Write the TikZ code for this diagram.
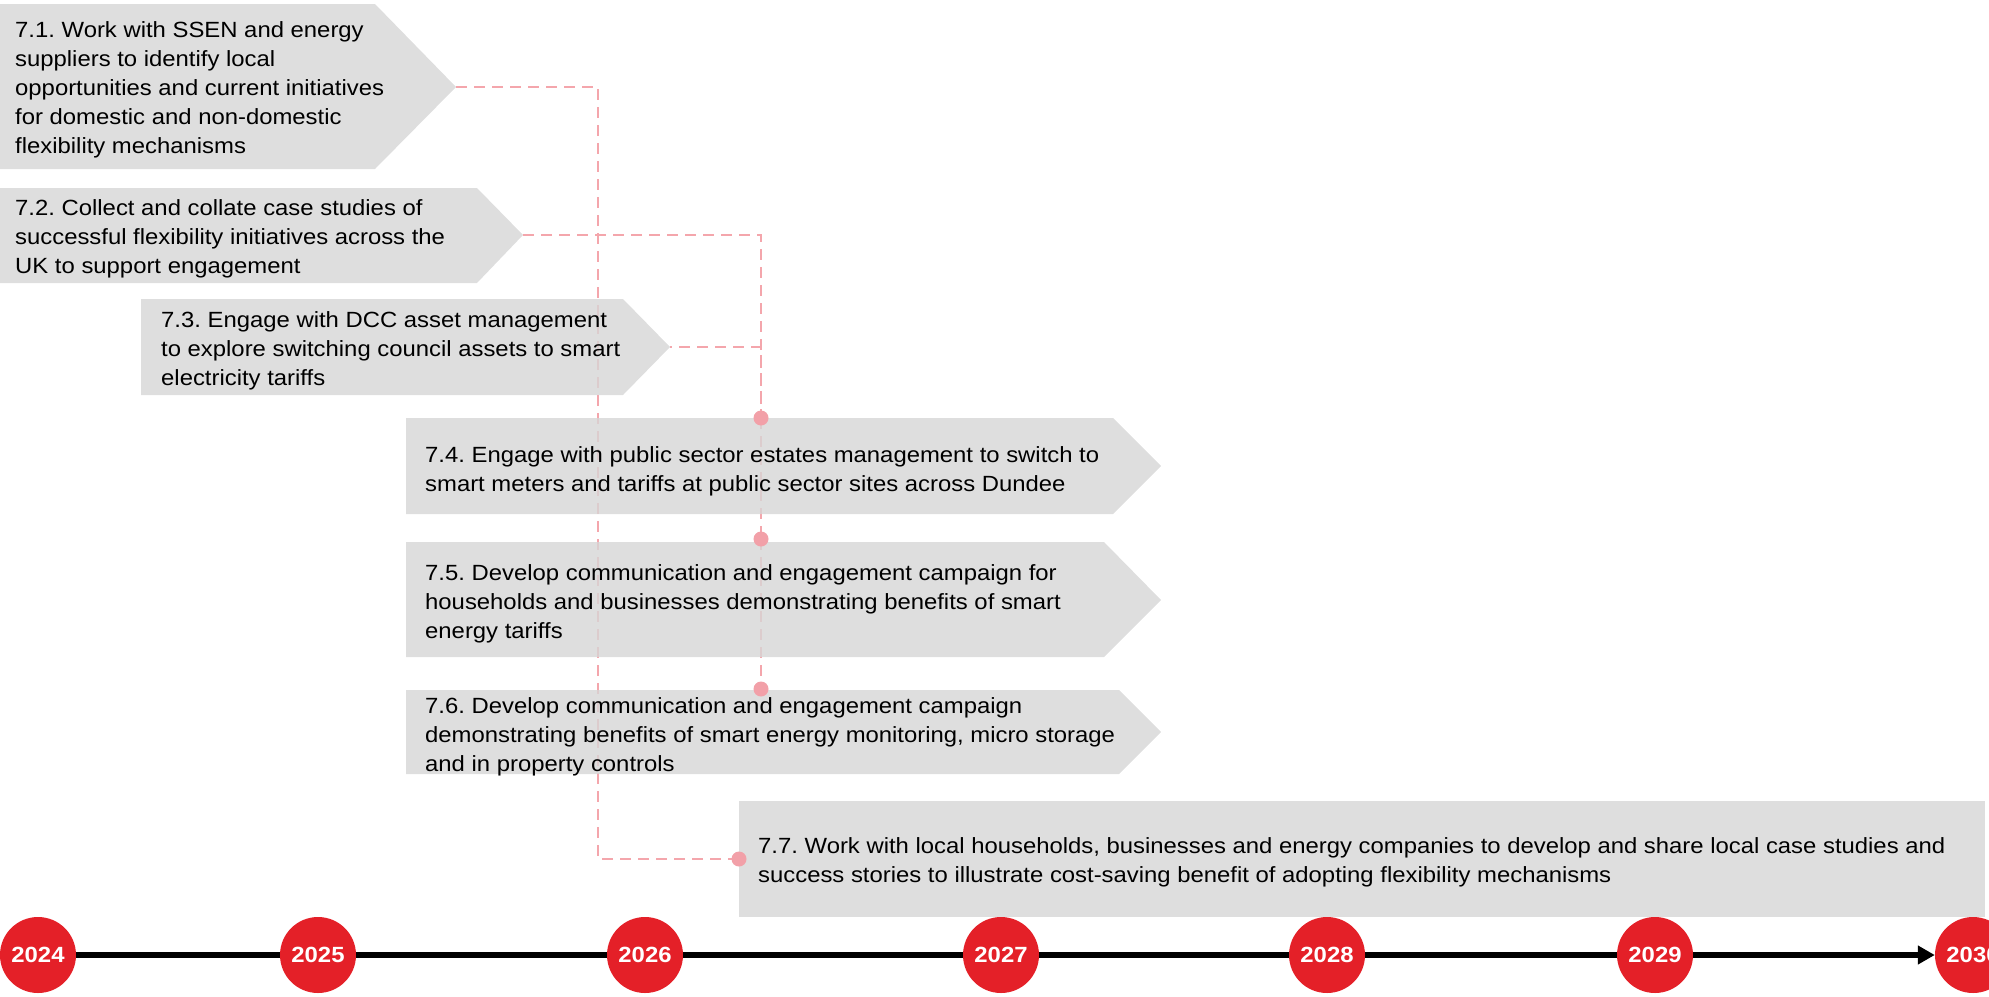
\documentclass[tikz,border=0pt]{standalone}
\usepackage{fontspec}
\setmainfont[FakeStretch=1.085]{Liberation Sans}
\usetikzlibrary{arrows.meta}
\pgfdeclarelayer{lines}
\pgfdeclarelayer{boxes}
\pgfsetlayers{lines,boxes,main}
\definecolor{boxgray}{RGB}{214,214,214}
\definecolor{pinkline}{RGB}{244,166,172}
\definecolor{pinkdot}{RGB}{242,160,168}
\definecolor{yearred}{RGB}{228,32,40}
\frenchspacing
\begin{document}
\begin{tikzpicture}[x=1pt,y=-1pt,
  chev/.style={fill=boxgray, fill opacity=0.8},
  conn/.style={draw=pinkline, line width=2.6pt, dash pattern=on 11pt off 7pt},
  dot/.style={circle, fill=pinkdot, inner sep=0pt, minimum size=15pt},
  txt/.style={anchor=north west, inner sep=0pt, align=left, font=\fontsize{22}{29}\selectfont, text=black},
  year/.style={circle, fill=yearred, inner sep=0pt, minimum size=76pt, text=white, font=\bfseries\fontsize{22}{22}\selectfont},
  timeline/.style={line width=6pt, -{Triangle[length=17pt,width=18pt]}}
]
\useasboundingbox (0,0) rectangle (1989,996);

% boxes
\begin{pgfonlayer}{boxes}
\fill[chev] (0,4) -- (375,4) -- (456,87) -- (375,169) -- (0,169) -- cycle;
\fill[chev] (0,188) -- (477,188) -- (523,235) -- (477,283) -- (0,283) -- cycle;
\fill[chev] (141,299) -- (623,299) -- (670,347) -- (623,395) -- (141,395) -- cycle;
\fill[chev] (406,418) -- (1113,418) -- (1161,466) -- (1113,514) -- (406,514) -- cycle;
\fill[chev] (406,542) -- (1104,542) -- (1161,600) -- (1104,657) -- (406,657) -- cycle;
\fill[chev] (406,690) -- (1119,690) -- (1161,732) -- (1119,774) -- (406,774) -- cycle;
\fill[chev] (739,801) rectangle (1985,917);
\end{pgfonlayer}
\coordinate (b71tip) at (456,87);
\coordinate (b72tip) at (523,235);
\coordinate (b73tip) at (670,347);
\coordinate (j1) at (598,500);

% texts
\node[txt] (t71) at (15,21) {7.1. Work with SSEN and energy\\suppliers to identify local\\opportunities and current initiatives\\for domestic and non-domestic\\flexibility mechanisms};
\node[txt] (t72) at (15,199) {7.2. Collect and collate case studies of\\successful flexibility initiatives across the\\UK to support engagement};
\node[txt] (t73) at (161,311) {7.3. Engage with DCC asset management\\to explore switching council assets to smart\\electricity tariffs};
\node[txt] (t74) at (425,446) {7.4. Engage with public sector estates management to switch to\\smart meters and tariffs at public sector sites across Dundee};
\node[txt] (t75) at (425,564) {7.5. Develop communication and engagement campaign for\\households and businesses demonstrating benefits of smart\\energy tariffs};
\node[txt] (t76) at (425,697) {7.6. Develop communication and engagement campaign\\demonstrating benefits of smart energy monitoring, micro storage\\and in property controls};
\node[txt] (t77) at (758,837) {7.7. Work with local households, businesses and energy companies to develop and share local case studies and\\success stories to illustrate cost-saving benefit of adopting flexibility mechanisms};

% dots
\node[dot] (d74) at (761,418) {};
\node[dot] (d75) at (761,539) {};
\node[dot] (d76) at (761,689) {};
\node[dot] (d77) at (739,859) {};

% connectors
\begin{pgfonlayer}{lines}
\draw[conn] (b71tip) -| (j1) |- (d77.center);
\draw[conn] (b72tip) -| (d74.center);
\draw[conn, dash phase=9pt] (b73tip) -| (d74.center);
\draw[conn] (d74.center) -- (d75.center);
\draw[conn] (d75.center) -- (d76.center);
\end{pgfonlayer}

% timeline
\node[year] (y2024) at (38,955) {2024};
\node[year] (y2025) at (318,955) {2025};
\node[year] (y2026) at (645,955) {2026};
\node[year] (y2027) at (1001,955) {2027};
\node[year] (y2028) at (1327,955) {2028};
\node[year] (y2029) at (1655,955) {2029};
\node[year] (y2030) at (1973,955) {2030};
\begin{pgfonlayer}{lines}
\draw[timeline] (y2024.center) -- (y2030.west);
\end{pgfonlayer}
\end{tikzpicture}
\end{document}
